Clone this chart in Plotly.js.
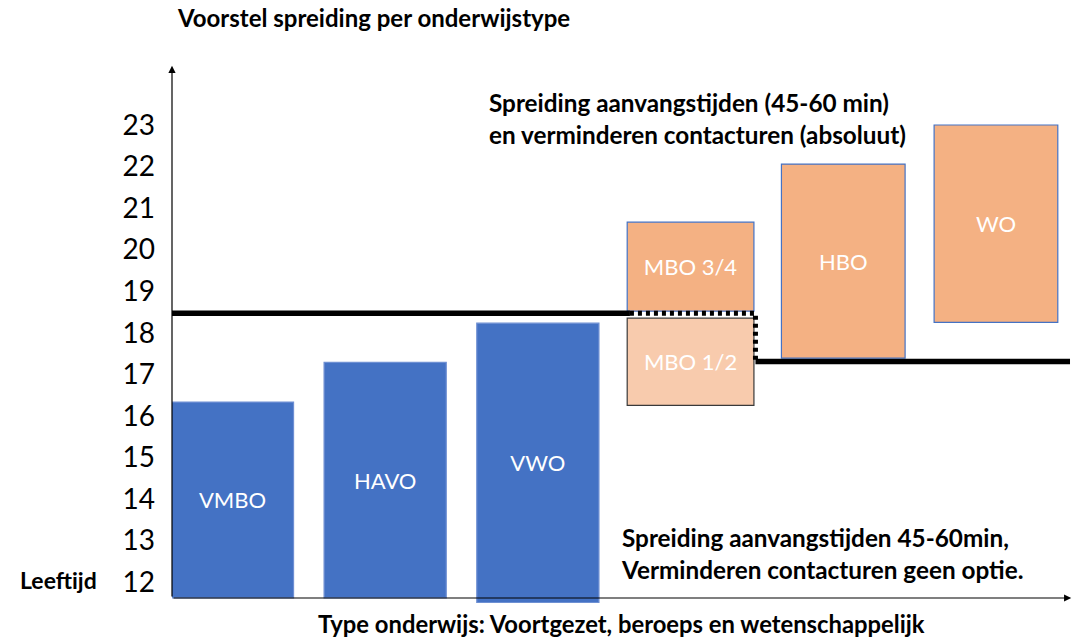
<!DOCTYPE html>
<html>
<head>
<meta charset="utf-8">
<script src="https://cdn.plot.ly/plotly-3.0.1.min.js"></script>
<style>html,body{margin:0;padding:0;background:#fff;}#chart{width:1077px;height:637px;}</style>
</head>
<body>
<div id="chart"></div>
<script>
// Data
const categories = ["VMBO", "HAVO", "VWO", "MBO 1/2", "MBO 3/4", "HBO", "WO"];
const positions  = [0, 1, 2, 3, 3, 4, 5];
const ageStart   = [11.62, 11.62, 11.5, 16.25, 18.52, 17.39, 18.25];
const ageEnd     = [16.33, 17.29, 18.23, 18.35, 20.66, 22.06, 23.0];
const groupType  = ["vo", "vo", "vo", "mbolow", "ho", "ho", "ho"];
const yTicks     = [12, 13, 14, 15, 16, 17, 18, 19, 20, 21, 22, 23];

// boundary lines
const lineLeftX   = [-0.396, 2.603];
const lineLeftY   = [18.47, 18.47];
const lineDotX    = [2.603, 3.425, 3.425];
const lineDotY    = [18.47, 18.47, 17.31];
const lineRightX  = [3.425, 5.485];
const lineRightY  = [17.31, 17.31];

const xRange = [-0.396, 5.498];
const yRange = [11.495, 24.444];
const axisBottom = 11.615;

const fillMap = {vo: "#4472C4", mbolow: "#F8CBAD", ho: "#F4B183"};
const edgeMap = {vo: "#6E8FD3", mbolow: "#3A3A3A", ho: "#4472C4"};

const bars = {
  type: "bar",
  x: positions,
  y: ageEnd.map((v, i) => v - ageStart[i]),
  base: ageStart,
  width: positions.map((p, i) => groupType[i] === "vo" ? 0.8 : (i >= 3 && i <= 4 ? 0.83 : 0.81)),
  text: categories,
  textposition: "inside",
  insidetextanchor: "middle",
  textangle: 0,
  constraintext: "none",
  insidetextfont: {family: "Lato", size: 22, color: "#ffffff"},
  marker: {
    color: groupType.map(g => fillMap[g]),
    line: {color: groupType.map(g => edgeMap[g]), width: 1.2}
  },
  hoverinfo: "skip",
  showlegend: false
};

const lineStyle = {color: "#000000", width: 5.5};
const traces = [
  bars,
  {type: "scatter", mode: "lines", x: lineLeftX, y: lineLeftY, line: lineStyle, showlegend: false, hoverinfo: "skip"},
  {type: "scatter", mode: "lines", x: lineDotX, y: lineDotY, line: {color: "#000000", width: 5, dash: "4px,4px"}, showlegend: false, hoverinfo: "skip"},
  {type: "scatter", mode: "lines", x: lineRightX, y: lineRightY, line: lineStyle, showlegend: false, hoverinfo: "skip"}
];

const layout = {
  width: 1077, height: 637,
  margin: {l: 172, r: 5, t: 65, b: 34},
  paper_bgcolor: "#ffffff", plot_bgcolor: "#ffffff",
  barmode: "overlay",
  title: {
    text: "<b>Voorstel spreiding per onderwijstype</b>",
    font: {family: "Lato", size: 24, color: "#000000"},
    x: 178 / 1077, xanchor: "left", xref: "container",
    y: 1 - 19 / 637, yanchor: "middle", yref: "container"
  },
  xaxis: {
    range: xRange, showgrid: false, zeroline: false, showline: false,
    showticklabels: false, ticks: "", fixedrange: true
  },
  yaxis: {
    range: yRange, showgrid: false, zeroline: false, showline: false,
    tickmode: "array", tickvals: yTicks, ticktext: yTicks.map(String),
    ticks: "", ticklabelstandoff: 16,
    tickfont: {family: "Lato", size: 28, color: "#000000"}, fixedrange: true
  },
  annotations: [
    // y axis arrow
    {xref: "x", yref: "y", x: xRange[0], y: yRange[1] - 0.02, axref: "x", ayref: "y", ax: xRange[0], ay: axisBottom,
     showarrow: true, arrowhead: 2, arrowsize: 1.2, arrowwidth: 1.2, arrowcolor: "#000000", text: "", standoff: 0},
    // x axis arrow
    {xref: "x", yref: "y", x: xRange[1] - 0.005, y: axisBottom, axref: "x", ayref: "y", ax: xRange[0], ay: axisBottom,
     showarrow: true, arrowhead: 2, arrowsize: 1.2, arrowwidth: 1.2, arrowcolor: "#000000", text: "", standoff: 0},
    {xref: "paper", yref: "paper", x: (18 - 172) / 900, y: (603 - 580) / 538, xanchor: "left", yanchor: "middle",
     text: "<b>Leeftijd</b>", showarrow: false, font: {family: "Lato", size: 23, color: "#000000"}},
    {xref: "paper", yref: "paper", x: (621 - 172) / 900, y: (603 - 624) / 538, xanchor: "center", yanchor: "middle",
     text: "<b>Type onderwijs: Voortgezet, beroeps en wetenschappelijk</b>", showarrow: false,
     font: {family: "Lato", size: 23.8, color: "#000000"}},
    {xref: "paper", yref: "paper", x: (487 - 172) / 900, y: (603 - 118.5) / 538, xanchor: "left", yanchor: "middle", align: "left",
     text: "<b>Spreiding aanvangstijden (45-60 min)<br>en verminderen contacturen (absoluut)</b>", showarrow: false,
     font: {family: "Lato", size: 24.3, color: "#000000"}},
    {xref: "paper", yref: "paper", x: (619 - 172) / 900, y: (603 - 553) / 538, xanchor: "left", yanchor: "middle", align: "left",
     text: "<b>Spreiding aanvangstijden 45-60min,<br>Verminderen contacturen geen optie.</b>", showarrow: false,
     font: {family: "Lato", size: 24.3, color: "#000000"}}
  ]
};

Plotly.newPlot("chart", traces, layout, {displayModeBar: false, staticPlot: true});
</script>
</body>
</html>
